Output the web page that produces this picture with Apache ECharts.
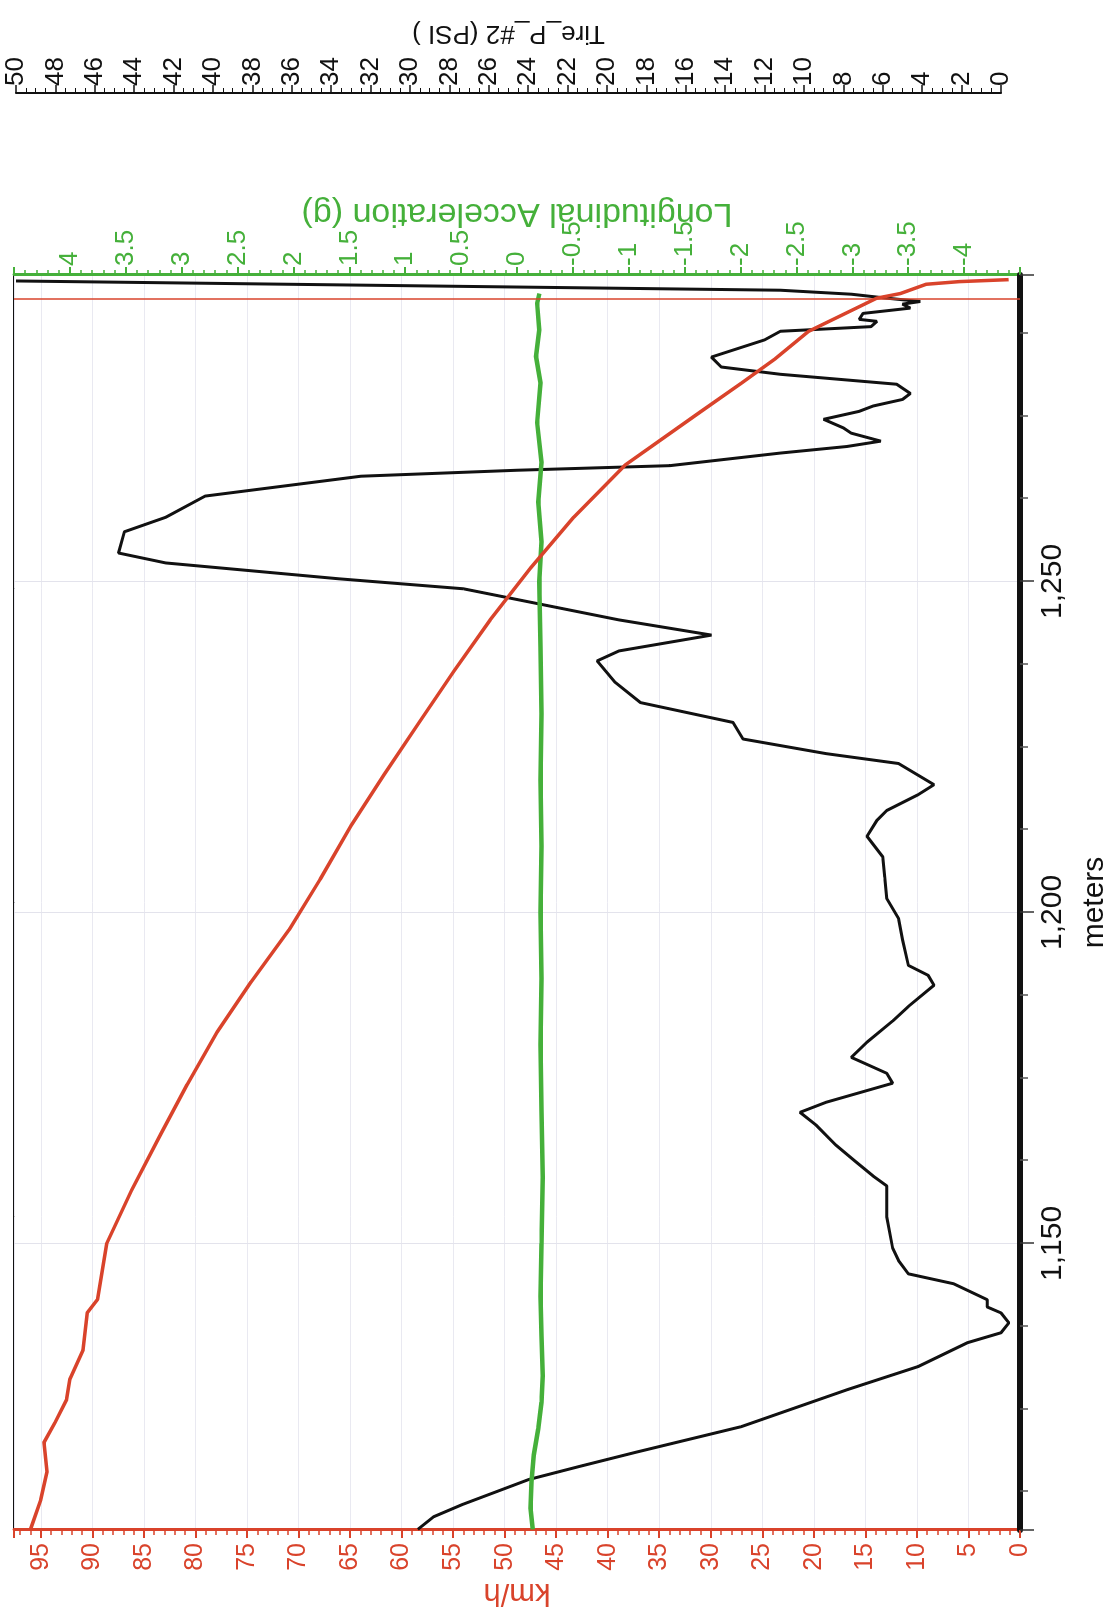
<!DOCTYPE html>
<html>
<head>
<meta charset="utf-8">
<script src="https://cdn.jsdelivr.net/npm/echarts@6/dist/echarts.min.js"></script>
<style>
  html, body { margin: 0; padding: 0; background: #fff; overflow: hidden; }
  body { width: 1107px; height: 1617px; position: relative; }
  /* the chart is drawn landscape, then turned a quarter left like the scan */
  #chart {
    position: absolute; left: 0; top: 0;
    width: 1617px; height: 1107px;
    transform-origin: 0 0;
    transform: translate(0, 1617px) rotate(-90deg);
  }
</style>
</head>
<body>
<div id="chart"></div>
<script>
// speed (km/h) against distance (meters)
const speedDist = [1106.8, 1111.3, 1115.5, 1119.9, 1123, 1126.4, 1129.4, 1133.9, 1139.5, 1141.5, 1150, 1158, 1166.4, 1174, 1181.9, 1189.5, 1197.4, 1205, 1213.1, 1220.8, 1228.7, 1236.5, 1244.2, 1252, 1259.7, 1267.6, 1275.3, 1280, 1283.7, 1287.8, 1290.3, 1292.8, 1293.5, 1294.9, 1295.3, 1295.6];
const speedKmh  = [96.0, 95.0, 94.4, 94.7, 93.6, 92.5, 92.2, 90.9, 90.5, 89.5, 88.6, 86.2, 83.4, 80.8, 77.9, 74.6, 70.9, 67.9, 64.9, 61.7, 58.3, 54.9, 51.4, 47.5, 43.3, 38.3, 31.3, 27.0, 23.7, 20.5, 17.2, 13.9, 11.6, 9.1, 5.9, 1.1];

// longitudinal acceleration (g)
const accelDist = [1106.8, 1110, 1114, 1118, 1122, 1126, 1130, 1136, 1142, 1150, 1160, 1170, 1180, 1190, 1200, 1210, 1220, 1230, 1240, 1250, 1256, 1262, 1268, 1274, 1280, 1284, 1288, 1292, 1293.5];
const accelG    = [-0.14, -0.12, -0.13, -0.15, -0.19, -0.22, -0.23, -0.22, -0.21, -0.22, -0.23, -0.22, -0.21, -0.22, -0.21, -0.22, -0.21, -0.22, -0.21, -0.20, -0.22, -0.19, -0.22, -0.18, -0.21, -0.17, -0.20, -0.18, -0.20];

// Tire_P_#2 (PSI)
const tireDist = [1106.8, 1108.7, 1110.6, 1114.3, 1116.3, 1118.4, 1122.3, 1127.9, 1131.4, 1135.0, 1136.5, 1138.0, 1139.5, 1140.4, 1141.5, 1142.2, 1143.9, 1145.4, 1147.4, 1149.3, 1154.0, 1158.7, 1160.2, 1162.4, 1164.9, 1167.9, 1169.8, 1171.3, 1174.2, 1175.7, 1178.1, 1180.4, 1183.6, 1185.8, 1189.0, 1190.5, 1192.0, 1195.9, 1199.1, 1202.1, 1205.3, 1208.4, 1211.5, 1213.9, 1215.4, 1217.8, 1219.3, 1222.5, 1224.0, 1226.2, 1228.7, 1231.7, 1234.8, 1238.0, 1239.5, 1241.9, 1244.2, 1248.9, 1250.4, 1252.8, 1254.3, 1257.5, 1259.7, 1262.9, 1265.9, 1266.8, 1267.5, 1269.4, 1270.4, 1271.2, 1272.4, 1273.2, 1274.5, 1275.7, 1276.5, 1277.5, 1278.4, 1279.8, 1281.3, 1282.4, 1283.9, 1286.5, 1287.8, 1288.5, 1289.3, 1289.6, 1290.5, 1290.8, 1291.3, 1291.9, 1292.3, 1292.8, 1293.4, 1294.0, 1295.4];
const tirePsi  = [29.6, 28.8, 27.3, 24.0, 21.4, 18.6, 13.2, 7.8, 4.2, 1.7, 0.0, -0.4, 0.0, 0.7, 0.7, 1.2, 2.4, 4.7, 5.2, 5.5, 5.8, 5.8, 6.5, 7.4, 8.4, 9.4, 10.2, 8.9, 5.5, 5.8, 7.6, 6.8, 5.5, 4.7, 3.4, 3.7, 4.7, 5.0, 5.2, 5.8, 5.9, 6.0, 6.8, 6.3, 5.8, 4.2, 3.4, 5.2, 8.9, 13.1, 13.6, 18.3, 19.6, 20.5, 19.4, 14.7, 19.4, 27.3, 33.6, 42.4, 44.8, 44.5, 42.4, 40.4, 32.5, 24.6, 16.8, 11.2, 7.8, 6.1, 7.6, 8.0, 9.0, 7.2, 6.5, 5.0, 4.6, 5.3, 11.2, 14.2, 14.7, 12.0, 11.2, 6.6, 6.3, 7.2, 7.0, 6.1, 4.6, 5.0, 4.1, 5.8, 7.6, 11.2, 50];

const cursorAt = 1292.7;   // red marker line
const distMin = 1106.7, distMax = 1296.3;

const RED = '#d9432b', GREEN = '#45b03a', BLACK = '#111';
const FONT = '"Liberation Sans", Arial, sans-serif';

function pairs(xs, ys) {
    return xs.map((x, i) => [x, ys[i]]);
}

const chart = echarts.init(document.getElementById('chart'), null, { renderer: 'canvas' });

const option = {
    animation: false,
    backgroundColor: '#fff',
    textStyle: { fontFamily: FONT },
    grid: [
        { left: 87, right: 275, top: 14, bottom: 87, show: true, borderColor: BLACK, borderWidth: 2, backgroundColor: 'transparent', outerBoundsMode: 'none' },
        { left: 87, right: 275, top: 16, bottom: 106, outerBoundsMode: 'none' }
    ],
    xAxis: [
        {
            type: 'value', gridIndex: 0, min: distMin, max: distMax, splitNumber: 4,
            name: 'meters', nameLocation: 'middle', nameGap: 60, nameMoveOverlap: false,
            nameTextStyle: { color: BLACK, fontSize: 30, fontFamily: FONT },
            axisLine: { show: true, lineStyle: { color: BLACK, width: 6 } },
            axisTick: { show: true, length: 14, lineStyle: { color: '#333', width: 1.5 } },
            minorTick: { show: true, splitNumber: 4, length: 8, lineStyle: { color: '#555', width: 1.5 } },
            axisLabel: {
                color: BLACK, fontSize: 30, margin: 18, showMinLabel: false, showMaxLabel: false,
                formatter: v => v.toLocaleString('en-US')
            },
            splitLine: { show: true, lineStyle: { color: '#e3e3ec', width: 1 } }
        },
        { type: 'value', gridIndex: 1, min: distMin, max: distMax, show: false }
    ],
    yAxis: [
        {
            type: 'value', gridIndex: 0, position: 'left', min: 0, max: 97.6, interval: 5,
            name: 'km/h', nameLocation: 'middle', nameGap: 47, nameRotate: 90, nameMoveOverlap: false,
            nameTextStyle: { color: RED, fontSize: 31, fontFamily: FONT },
            axisLine: { show: true, lineStyle: { color: RED, width: 3 } },
            axisTick: { show: true, length: 8, lineStyle: { color: RED, width: 2 } },
            minorTick: { show: true, splitNumber: 5, length: 5, lineStyle: { color: RED, width: 1.5 } },
            axisLabel: { color: RED, fontSize: 25, margin: 13, showMaxLabel: false },
            splitLine: { show: true, lineStyle: { color: '#e9e9f1', width: 1 } }
        },
        {
            type: 'value', gridIndex: 0, position: 'right', min: -4.5, max: 4.5, interval: 0.5,
            name: 'Longitudinal Acceleration (g)', nameLocation: 'middle', nameGap: 45, nameRotate: 90,
            nameMoveOverlap: false,
            nameTextStyle: { color: GREEN, fontSize: 34, fontFamily: FONT },
            axisLine: { show: true, lineStyle: { color: GREEN, width: 3 } },
            axisTick: { show: true, length: 8, lineStyle: { color: GREEN, width: 2 } },
            minorTick: { show: true, splitNumber: 5, length: 5, lineStyle: { color: GREEN, width: 1.5 } },
            axisLabel: { color: GREEN, fontSize: 26, margin: 9, showMinLabel: false, showMaxLabel: false },
            splitLine: { show: false }
        },
        {
            type: 'value', gridIndex: 1, position: 'right', offset: 182, min: 0, max: 50, interval: 2,
            name: 'Tire_P_#2 (PSI )', nameLocation: 'middle', nameGap: 47, nameRotate: 90,
            nameMoveOverlap: false,
            nameTextStyle: { color: BLACK, fontSize: 26, fontFamily: FONT },
            axisLine: { show: true, lineStyle: { color: BLACK, width: 2 } },
            axisTick: { show: true, length: 8, lineStyle: { color: BLACK, width: 1.5 } },
            minorTick: { show: true, splitNumber: 4, length: 5, lineStyle: { color: BLACK, width: 1 } },
            axisLabel: { color: BLACK, fontSize: 26, margin: 7 },
            splitLine: { show: false }
        }
    ],
    series: [
        {
            name: 'Tire_P_#2', type: 'line', xAxisIndex: 1, yAxisIndex: 2,
            data: pairs(tireDist, tirePsi), showSymbol: false, clip: false,
            lineStyle: { color: BLACK, width: 3 }, z: 3
        },
        {
            name: 'Longitudinal Acceleration', type: 'line', xAxisIndex: 0, yAxisIndex: 1,
            data: pairs(accelDist, accelG), showSymbol: false,
            lineStyle: { color: GREEN, width: 4.5 }, z: 4
        },
        {
            name: 'Speed', type: 'line', xAxisIndex: 0, yAxisIndex: 0,
            data: pairs(speedDist, speedKmh), showSymbol: false,
            lineStyle: { color: RED, width: 3.5 }, z: 5,
            markLine: {
                silent: true, symbol: 'none', label: { show: false },
                lineStyle: { color: RED, width: 1.5, type: 'solid' },
                data: [{ xAxis: cursorAt }]
            }
        }
    ]
};

chart.setOption(option);
</script>
</body>
</html>
